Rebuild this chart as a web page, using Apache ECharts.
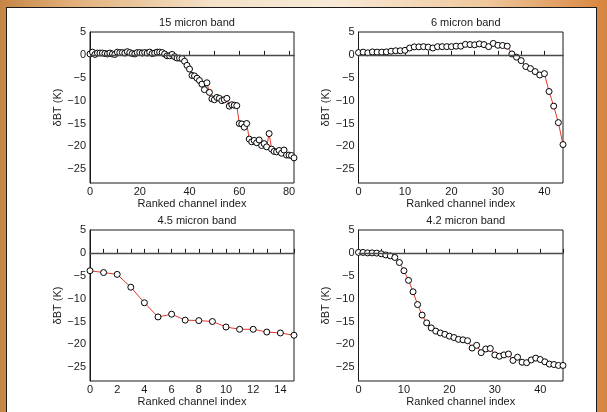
<!DOCTYPE html>
<html>
<head>
<meta charset="utf-8">
<script src="https://cdn.jsdelivr.net/npm/echarts@6/dist/echarts.min.js"></script>
<style>
  html, body { margin: 0; padding: 0; }
  #wrap { position: relative; width: 607px; height: 412px; overflow: hidden;
    background: linear-gradient(90deg, #c58546 0%, #e2b07a 12%, #f4e2c8 35%, #f8ead8 55%, #efc89c 80%, #d8843e 100%); }
  #panel { position: absolute; left: 6px; top: 7px; width: 589px; height: 420px; background: #fff; border: 1px solid #1a1a1a; }
  #chart { position: absolute; left: 0; top: 0; width: 607px; height: 412px; }
</style>
</head>
<body>
<div id="wrap"><div id="panel"></div><div id="chart"></div></div>
<script>
// ---- data ----
const titles = ['15 micron band', '6 micron band', '4.5 micron band', '4.2 micron band'];
const band15 = [0.2, 0.6, 0.1, 0.4, 0.4, 0.4, 0.3, 0.2, 0.4, 0.2, 0.1, 0.6, 0.5, 0.5, 0.4, 0.7, 0.5, 0.3, 0.2, 0.5,
  0.5, 0.4, 0.5, 0.4, 0.6, 0.3, 0.4, 0.6, 0.6, 0.5, 0.2, -0.2, -0.2, 0.1, -0.4, -0.7, -0.7, -0.8, -1.4, -2.3,
  -3.1, -4.5, -4.6, -5.1, -5.6, -6.4, -7.6, -6.1, -8.2, -9.6, -9.8, -9.3, -9.5, -10.0, -9.8, -9.5, -11.2, -10.9, -11.0, -11.1,
  -15.0, -15.1, -15.8, -15.0, -18.4, -19.0, -18.7, -19.2, -18.6, -19.8, -19.4, -20.1, -17.2, -20.6, -21.1, -21.2, -20.9, -21.5, -20.8, -21.9,
  -21.9, -22.0, -22.5];
const band6 = [0.5, 0.6, 0.45, 0.65, 0.6, 0.6, 0.65, 0.8, 0.9, 0.9, 1.0, 1.5, 1.75, 1.75, 1.8, 1.7, 1.5, 1.8, 1.8, 1.8,
  1.8, 1.9, 1.9, 2.3, 2.25, 2.2, 2.4, 2.25, 1.8, 2.5, 2.1, 2.05, 1.9, 0.2, -0.5, -1.25, -2.55, -3.0, -3.65, -4.4,
  -4.1, -8.0, -11.2, -14.8, -19.6];
const band45 = [-3.9, -4.3, -4.7, -7.5, -10.9, -14.0, -13.4, -14.7, -14.8, -15.0, -16.2, -16.7, -16.7, -17.3, -17.5, -18.0];
const band42 = [0.1, 0.1, 0.0, 0.0, -0.05, -0.2, -0.45, -0.65, -1.0, -2.1, -3.9, -6.0, -8.5, -11.3, -13.6, -15.3, -16.4, -17.1, -17.5, -17.8,
  -18.2, -18.5, -18.9, -19.0, -19.2, -20.8, -20.2, -21.8, -21.0, -20.9, -22.3, -22.6, -22.3, -22.1, -23.5, -22.8, -23.9, -24.0, -23.4, -23.0,
  -23.3, -23.8, -24.3, -24.4, -24.6, -24.6];
const xMax = [82, 44, 15, 45];
const xTickValues = [
  [0, 10, 20, 30, 40, 50, 60, 70, 80],
  [0, 5, 10, 15, 20, 25, 30, 35, 40],
  [0, 1, 2, 3, 4, 5, 6, 7, 8, 9, 10, 11, 12, 13, 14, 15],
  [0, 5, 10, 15, 20, 25, 30, 35, 40, 45]
];
const xLabelValues = [
  [0, 20, 40, 60, 80],
  [0, 10, 20, 30, 40],
  [0, 2, 4, 6, 8, 10, 12, 14],
  [0, 10, 20, 30, 40]
];
const yLabelValues = [5, 0, -5, -10, -15, -20, -25];
const seriesData = [band15, band6, band45, band42];

// ---- layout ----
const FONT = "'Liberation Sans', Arial, Helvetica, sans-serif";
const grids = [
  { left: 90, top: 32, width: 204, height: 151 },
  { left: 358.5, top: 32, width: 204.5, height: 151 },
  { left: 90, top: 230, width: 204, height: 151 },
  { left: 358.5, top: 230, width: 204.5, height: 151 }
];
const minus = v => String(v).replace('-', '\u2212');
const textStyle = { color: '#1a1a1a', fontFamily: FONT, fontSize: 11 };

const option = {
  animation: false,
  textStyle: { fontFamily: FONT },
  title: titles.map((t, i) => ({
    text: t,
    left: grids[i].left + grids[i].width / 2,
    top: grids[i].top - 20,
    textAlign: 'center',
    textStyle: Object.assign({ fontWeight: 'normal' }, textStyle)
  })),
  grid: grids.map(g => Object.assign({ show: true, borderColor: '#1a1a1a', borderWidth: 1, backgroundColor: 'transparent' }, g)),
  xAxis: grids.map((g, i) => ({
    gridIndex: i, type: 'value', min: 0, max: xMax[i],
    name: 'Ranked channel index', nameLocation: 'middle', nameGap: 15,
    nameTextStyle: textStyle,
    axisLine: { show: true, lineStyle: { color: '#1a1a1a', width: 1 } },
    axisTick: { show: true, inside: true, length: 4, customValues: xTickValues[i], lineStyle: { color: '#1a1a1a' } },
    axisLabel: Object.assign({ customValues: xLabelValues[i], margin: 3, formatter: minus }, textStyle),
    splitLine: { show: false }
  })),
  yAxis: grids.map((g, i) => ({
    gridIndex: i, type: 'value', min: -28, max: 5,
    name: '\u03b4BT (K)', nameLocation: 'middle', nameGap: i % 2 === 0 ? 27 : 26,
    nameTextStyle: textStyle,
    axisLine: { show: true, lineStyle: { color: '#1a1a1a', width: 1 } },
    axisTick: { show: false },
    axisLabel: Object.assign({ customValues: yLabelValues, margin: 4, formatter: minus }, textStyle),
    splitLine: { show: false }
  })),
  series: seriesData.map((arr, i) => ({
    type: 'line', xAxisIndex: i, yAxisIndex: i,
    data: arr.map((v, k) => [k, v]),
    symbol: 'circle', symbolSize: 6, showSymbol: true,
    lineStyle: { color: '#e8352b', width: 1 },
    itemStyle: { color: '#ffffff', borderColor: '#000000', borderWidth: 1 },
    markLine: {
      silent: true, symbol: 'none', label: { show: false },
      lineStyle: { color: '#4a4a4a', width: 1.3, type: 'solid' },
      data: [{ yAxis: 0 }]
    },
    z: 3
  }))
};

const chart = echarts.init(document.getElementById('chart'), null, { renderer: 'canvas' });
chart.setOption(option);
</script>
</body>
</html>
